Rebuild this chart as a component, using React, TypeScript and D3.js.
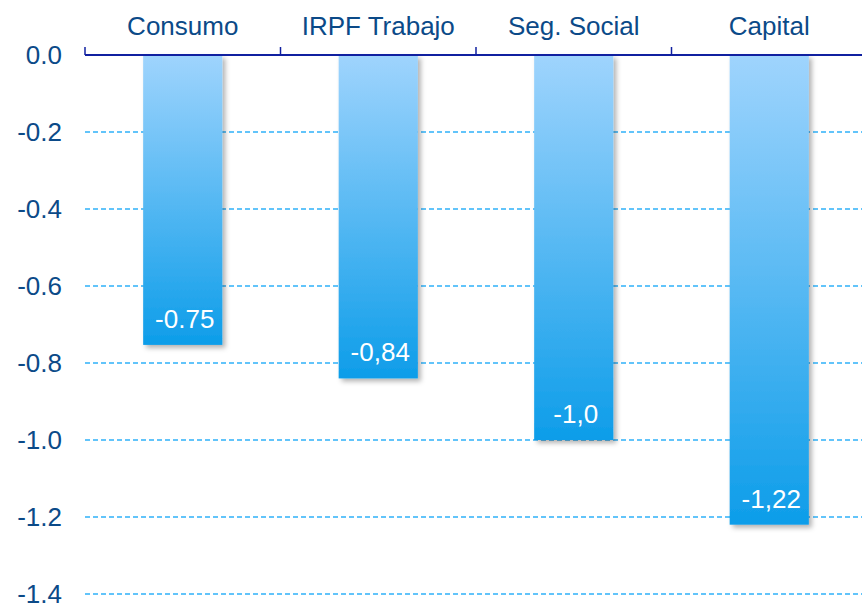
import React, { useEffect, useRef } from 'react';
import * as d3 from 'd3';

const categories = ['Consumo', 'IRPF Trabajo', 'Seg. Social', 'Capital'];
const values = [-0.753, -0.84, -1.0, -1.22];
const valueLabels = ['-0.75', '-0,84', '-1,0', '-1,22'];
const yTicks = [0, -0.2, -0.4, -0.6, -0.8, -1.0, -1.2, -1.4];

export default function App() {
  const svgRef = useRef<SVGSVGElement>(null);

  useEffect(() => {
    if (!svgRef.current) return;
    const svg = d3.select(svgRef.current);
    svg.selectAll('*').remove();

    const width = 862;
    const font = '"Liberation Sans", Arial, sans-serif';
    const fontSize = 26;

    const x = d3.scaleBand().domain(categories).range([85, 867]).paddingInner(0).paddingOuter(0);
    const y = d3.scaleLinear().domain([0, -1.4]).range([55, 594]);
    const barW = x.bandwidth() * 0.405;

    const defs = svg.append('defs');
    const grad = defs.append('linearGradient')
      .attr('id', 'barGrad')
      .attr('x1', 0).attr('y1', 0).attr('x2', 0).attr('y2', 1);
    grad.append('stop').attr('offset', '0%').attr('stop-color', '#9fd4fd');
    grad.append('stop').attr('offset', '100%').attr('stop-color', '#0d9de9');

    const shadow = defs.append('filter')
      .attr('id', 'shadow')
      .attr('x', '-20%').attr('y', '-5%').attr('width', '150%').attr('height', '115%');
    shadow.append('feDropShadow')
      .attr('dx', 3).attr('dy', 3).attr('stdDeviation', 2.5)
      .attr('flood-color', '#000').attr('flood-opacity', 0.3);

    // gridlines
    svg.append('g')
      .selectAll('line')
      .data(yTicks.filter(d => d !== 0))
      .join('line')
      .attr('x1', 85).attr('x2', width)
      .attr('y1', d => Math.round(y(d))).attr('y2', d => Math.round(y(d)))
      .attr('stroke', '#62c4fa')
      .attr('stroke-width', 2)
      .attr('stroke-dasharray', '5,3');

    // y tick labels
    svg.append('g')
      .selectAll('text')
      .data(yTicks)
      .join('text')
      .attr('x', 62)
      .attr('y', d => y(d))
      .attr('dy', '0.36em')
      .attr('text-anchor', 'end')
      .attr('font-family', font)
      .attr('font-size', fontSize)
      .attr('fill', '#0b4a88')
      .text(d => d3.format('.1f')(d).replace('−', '-'));

    // bars
    svg.append('g')
      .selectAll('rect')
      .data(categories)
      .join('rect')
      .attr('x', d => x(d)! + x.bandwidth() / 2 - barW / 2)
      .attr('y', y(0))
      .attr('width', barW)
      .attr('height', (d, i) => y(values[i]) - y(0))
      .attr('fill', 'url(#barGrad)')
      .attr('filter', 'url(#shadow)');

    // value labels
    svg.append('g')
      .selectAll('text')
      .data(categories)
      .join('text')
      .attr('x', d => x(d)! + x.bandwidth() / 2 + 2)
      .attr('y', (d, i) => y(values[i]) - 17)
      .attr('text-anchor', 'middle')
      .attr('font-family', font)
      .attr('font-size', fontSize)
      .attr('fill', '#ffffff')
      .text((d, i) => valueLabels[i]);

    // top axis
    const axis = svg.append('g');
    axis.append('line')
      .attr('x1', 85).attr('x2', width)
      .attr('y1', 55).attr('y2', 55)
      .attr('stroke', '#1020a0').attr('stroke-width', 2);
    axis.selectAll('line.tick')
      .data(d3.range(categories.length + 1))
      .join('line')
      .attr('class', 'tick')
      .attr('x1', i => 85 + i * x.bandwidth())
      .attr('x2', i => 85 + i * x.bandwidth())
      .attr('y1', 47).attr('y2', 55)
      .attr('stroke', '#1020a0').attr('stroke-width', 1.5);
    axis.selectAll('text')
      .data(categories)
      .join('text')
      .attr('x', d => x(d)! + x.bandwidth() / 2)
      .attr('y', 35)
      .attr('text-anchor', 'middle')
      .attr('font-family', font)
      .attr('font-size', fontSize)
      .attr('fill', '#0b4a88')
      .text(d => d);
  }, []);

  return (
    <svg
      ref={svgRef}
      width={862}
      height={606}
      style={{ position: 'absolute', left: 0, top: 0, background: '#fff' }}
    />
  );
}
